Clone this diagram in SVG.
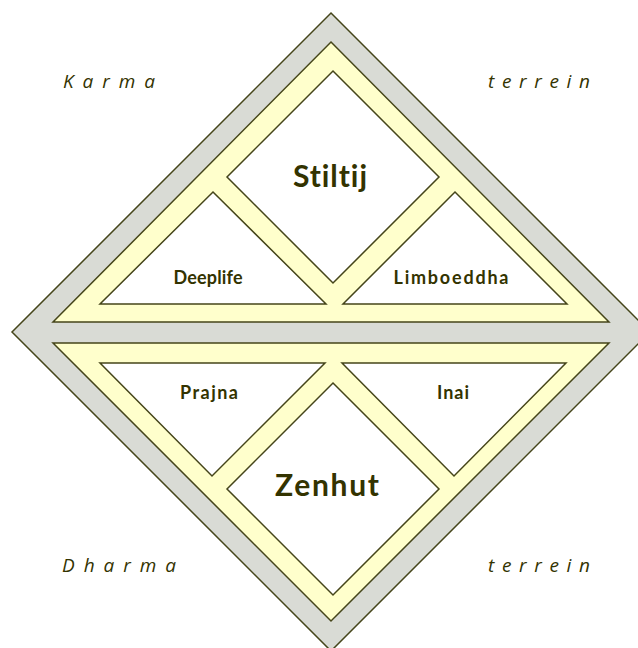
<svg xmlns="http://www.w3.org/2000/svg" width="638" height="648" viewBox="0 0 638 648">
<style>
.ln{stroke:#45451a;stroke-width:1.5;stroke-linejoin:miter}
.outer{fill:#d9dbd5}
.band{fill:#ffffcc}
.cell{fill:#ffffff}
.lbl{font-family:Lato,"Open Sans","Noto Sans",sans-serif;font-weight:bold;fill:#333300;text-anchor:middle;font-variant-ligatures:none}
.big{font-size:30px}
.sm{font-size:18px}
.side{font-family:"Open Sans","Noto Sans",sans-serif;font-style:italic;font-size:19px;fill:#333300}
</style>
<rect width="638" height="648" fill="#ffffff"/>
<g id="frame">
<polygon class="outer ln" points="331,13 650,332 331,651 12,332"/>
<polygon class="band ln" points="331,42 609,322 53,322"/>
<polygon class="band ln" points="53,343 609,343 331,621"/>
</g>
<g id="stiltij">
<polygon class="cell ln" points="333,71 439,177 333,283 227,177"/>
<text class="lbl big" x="330" y="187" textLength="74" lengthAdjust="spacing">Stiltij</text>
</g>
<g id="deeplife">
<polygon class="cell ln" points="213,192 326,304 100,304"/>
<text class="lbl sm" x="208" y="284" textLength="69" lengthAdjust="spacing">Deeplife</text>
</g>
<g id="limboeddha">
<polygon class="cell ln" points="455,192 567,304 343,304"/>
<text class="lbl sm" x="451" y="284" textLength="115" lengthAdjust="spacing">Limboeddha</text>
</g>
<g id="prajna">
<polygon class="cell ln" points="100,363 325,363 212,476"/>
<text class="lbl sm" x="209" y="399" textLength="58" lengthAdjust="spacing">Prajna</text>
</g>
<g id="inai">
<polygon class="cell ln" points="342,363 566,363 454,476"/>
<text class="lbl sm" x="453" y="399" textLength="32" lengthAdjust="spacing">Inai</text>
</g>
<g id="zenhut">
<polygon class="cell ln" points="333,383 439,489 333,595 227,489"/>
<text class="lbl big" x="327" y="496" textLength="104" lengthAdjust="spacing">Zenhut</text>
</g>
<g id="labels">
<text class="side" x="63" y="88" textLength="92" lengthAdjust="spacing">Karma</text>
<text class="side" x="488" y="88" textLength="102" lengthAdjust="spacing">terrein</text>
<text class="side" x="62" y="572" textLength="114" lengthAdjust="spacing">Dharma</text>
<text class="side" x="488" y="572" textLength="102" lengthAdjust="spacing">terrein</text>
</g>
<g id="connectors"></g>
</svg>
